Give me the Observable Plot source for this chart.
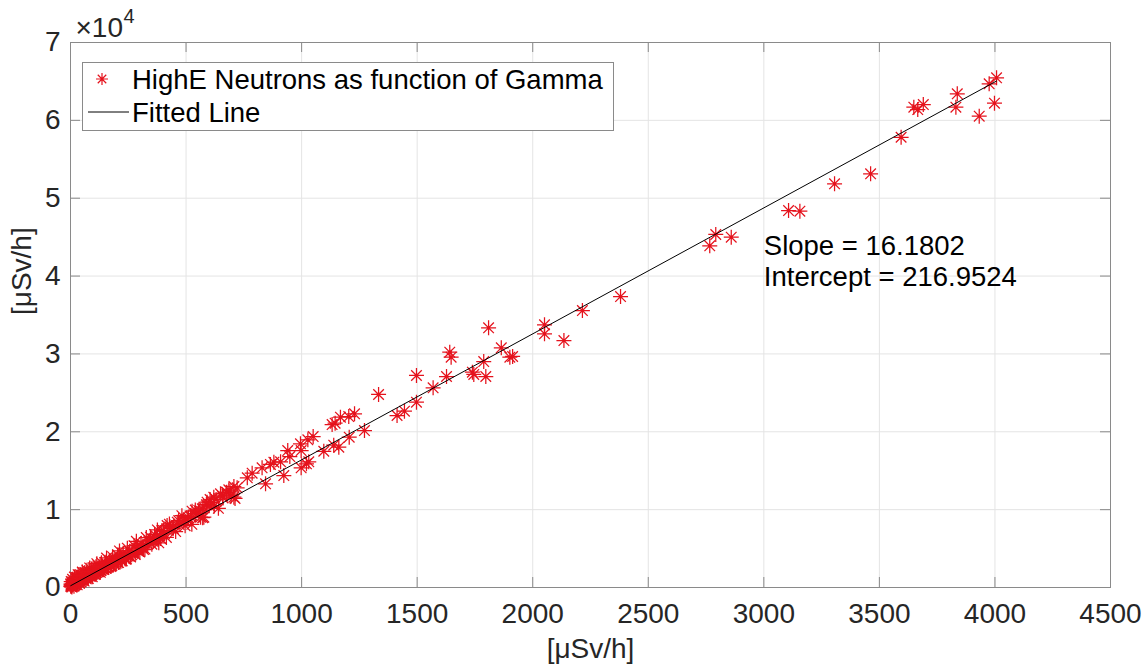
<!DOCTYPE html>
<html>
<head>
<meta charset="utf-8">
<script src="https://cdn.jsdelivr.net/npm/d3@7"></script>
<script src="https://cdn.jsdelivr.net/npm/@observablehq/plot@0.6"></script>
<style>
  html, body { margin: 0; padding: 0; background: #fff; }
  #wrap { position: relative; width: 1144px; height: 671px; font-family: "Liberation Sans", Arial, sans-serif; }
  #legend { position: absolute; left: 82px; top: 62px; width: 530px; height: 67px; border: 1px solid #8a8a8a; background: #fff; }
</style>
</head>
<body>
<div id="wrap"><div id="chart"></div><div id="legend"></div></div>
<script>
// ---- data ----
const gamma = [
  1,2,3,4,5,7,8,10,11,13,14,16,18,19,21,23,24,26,28,30,32,34,36,38,40,43,45,47,50,52,55,57,60,63,66,69,72,75,78,81,85,88,92,96,100,104,108,112,117,121,126,131,136,141,147,153,159,165,172,179,186,193,200,208,216,224,233,242,251,260,270,280,290,300,311,322,334,358,370,385,
  3,6,9,12,15,17,20,22,25,27,29,31,33,35,37,39,42,44,46,48,51,54,56,59,62,65,68,71,74,77,80,83,87,90,94,98,102,106,110,114,119,124,129,134,139,144,150,156,162,168,175,182,189,197,204,212,220,228,237,246,256,265,275,285,295,305,316,328,340,352,364,376,390,402,415,428,440,455,468,482,496,510,525,540,556,572,588,604,622,640,658,676,695,712,
  395,430,445,470,490,505,520,540,555,570,600,610,630,660,675,690,
  361,346,382,407,418,462,526,563,577,577,591,620,649,685,707,707,721,765,786,829,844,865,880,909,923,940,949,995,998,998,1021,1027,1031,1050,1096,1132,1139,1145,1161,1168,1204,1206,1229,1272,1333,1413,1445,1497,1497,1569,1627,1641,1647,1739,1745,1788,1797,1809,1864,1901,1913,2051,2051,2135,2215,2380,
  2766,2792,2859,3107,3156,3306,3462,3594,3649,3666,3690,3831,3837,3932,3975,3998,4007
];
const neutrons = [
  180,420,120,330,260,450,310,520,380,470,610,540,650,580,720,680,800,710,850,790,930,860,1000,920,1050,990,1120,1060,1180,1110,1260,1190,1340,1280,1420,1350,1500,1440,1590,1520,1680,1610,1790,1720,1900,1830,2010,1940,2140,2060,2280,2190,2420,2330,2560,2480,2720,2640,2900,2810,3090,3000,3300,3200,3520,3420,3780,3660,4050,3930,4380,4250,4720,4560,5100,4940,5560,5900,6250,6600,
  770,60,1060,610,160,1340,840,370,1270,750,340,1270,1650,680,1220,550,1650,1130,710,1590,1990,940,1570,820,1920,1520,1120,2220,1710,1160,2060,2510,1480,2070,1390,2550,2070,1680,2650,3060,1990,2670,1950,3190,2720,2300,3240,3790,2640,3390,2700,3960,3530,3100,4170,4700,3630,4410,3650,5050,4660,4200,5370,5930,4790,5650,4880,6420,6020,5560,6810,7400,6280,7320,6430,8140,7640,7180,8590,9220,7940,8970,8110,9950,9510,8970,10630,11290,10480,10170,11760,12250,11760,11440,
  7300,7800,7600,8100,8600,8800,9100,9500,9900,10100,10500,10900,11300,11500,12200,12400,
  6040,6460,5740,6900,7960,8390,9800,9030,10310,9030,10960,11600,12030,12550,12970,11600,12800,14090,14680,15370,13320,15800,16100,16140,14380,17590,16820,18450,17590,15370,15880,18970,16140,19390,17500,20930,18280,21100,18020,21870,21960,19300,22310,20160,24790,22090,22640,27230,23800,25650,27100,30220,29580,27650,27360,29020,27100,33350,30780,29580,29670,33740,32580,31720,35570,37370,
  43880,45340,44990,48420,48330,51850,53130,57830,61690,61390,62030,61690,63410,60530,64690,62200,65460
];
const fitSlope = 16.1802;
const fitIntercept = 216.9524;
const xTicks = [0, 500, 1000, 1500, 2000, 2500, 3000, 3500, 4000, 4500];
const yTicks = [0, 10000, 20000, 30000, 40000, 50000, 60000, 70000];
const xLabel = "[μSv/h]";
const yLabel = "[μSv/h]";
const exponentBase = "×10";
const exponentPower = "4";
const seriesName = "HighE Neutrons as function of Gamma";
const fitName = "Fitted Line";
const annotX = 3000, annotY = 42000;
const annotText = `Slope = ${fitSlope.toFixed(4)}\nIntercept = ${fitIntercept.toFixed(4)}`;

// ---- build ----
const points = gamma.map((g, i) => ({g, n: neutrons[i]}));
const fitLine = d3.extent(gamma).map(g => ({g, n: fitSlope * g + fitIntercept}));

const W = 1144, H = 671, mL = 70, mR = 34, mT = 42, mB = 84;
const innerW = W - mL - mR, innerH = H - mT - mB;
const red = "#e5121c";
const frameColor = "#8a8a8a";
const gridColor = "#e4e4e4";
const tickLen = 10;

// MATLAB-like asterisk (+ combined with x)
const asterisk = {
  draw(ctx, size) {
    const r = Math.sqrt(size / Math.PI);
    const d = r * Math.SQRT1_2;
    ctx.moveTo(-r, 0); ctx.lineTo(r, 0);
    ctx.moveTo(0, -r); ctx.lineTo(0, r);
    ctx.moveTo(-d, -d); ctx.lineTo(d, d);
    ctx.moveTo(-d, d); ctx.lineTo(d, -d);
  }
};

const chart = Plot.plot({
  width: W, height: H,
  marginLeft: mL, marginRight: mR, marginTop: mT, marginBottom: mB,
  style: {fontFamily: "'Liberation Sans', Arial, sans-serif", fontSize: "28px", color: "#262626", background: "#fff", overflow: "visible"},
  x: {domain: [0, 4500], ticks: xTicks, tickFormat: d => String(d), tickSize: 0, tickPadding: 16, label: null},
  y: {domain: [0, 70000], ticks: yTicks, tickFormat: d => String(d / 1e4), tickSize: 0, tickPadding: 10, label: null},
  marks: [
    Plot.ruleX(xTicks, {stroke: gridColor, strokeWidth: 1}),
    Plot.ruleY(yTicks, {stroke: gridColor, strokeWidth: 1}),
    Plot.ruleX(xTicks, {stroke: frameColor, insetTop: innerH - tickLen}),
    Plot.ruleX(xTicks, {stroke: frameColor, insetBottom: innerH - tickLen}),
    Plot.ruleY(yTicks, {stroke: frameColor, insetRight: innerW - tickLen}),
    Plot.ruleY(yTicks, {stroke: frameColor, insetLeft: innerW - tickLen}),
    Plot.frame({stroke: frameColor, strokeWidth: 1}),
    Plot.dot(points, {x: "g", y: "n", symbol: asterisk, r: 7.5, stroke: red, strokeWidth: 1.25, fill: "none"}),
    Plot.line(fitLine, {x: "g", y: "n", stroke: "#000", strokeWidth: 1}),
    Plot.text([{x: annotX, y: annotY, t: annotText}], {x: "x", y: "y", text: "t", textAnchor: "start", lineAnchor: "middle", fontSize: 27.5, lineHeight: 1.15, fill: "#000"}),
    Plot.text([xLabel], {frameAnchor: "bottom", dy: 70, fontSize: 28, fill: "#262626"}),
    Plot.text([yLabel], {frameAnchor: "left", dx: -48, rotate: -90, fontSize: 28, fill: "#262626"}),
    Plot.text([exponentBase], {frameAnchor: "top-left", dx: 5, dy: -6, textAnchor: "start", lineAnchor: "bottom", fontSize: 28, fill: "#262626"}),
    Plot.text([exponentPower], {frameAnchor: "top-left", dx: 53, dy: -20, textAnchor: "start", lineAnchor: "bottom", fontSize: 20, fill: "#262626"})
  ]
});
document.getElementById("chart").appendChild(chart);

// legend box inside the axes (as in the reference)
const lg = d3.select("#legend").append("svg").attr("width", 530).attr("height", 67)
  .style("font-family", "'Liberation Sans', Arial, sans-serif");
const sym = d3.symbol().type(asterisk).size(Math.PI * 36);
lg.append("path").attr("d", sym()).attr("transform", "translate(19,16)")
  .attr("fill", "none").attr("stroke", red).attr("stroke-width", 1.2);
lg.append("line").attr("x1", 5).attr("x2", 46).attr("y1", 49).attr("y2", 49).attr("stroke", "#000").attr("stroke-width", 1);
lg.append("text").attr("x", 49).attr("y", 16).attr("dy", "0.35em").attr("font-size", 27.5).attr("fill", "#000").text(seriesName);
lg.append("text").attr("x", 49).attr("y", 49).attr("dy", "0.35em").attr("font-size", 27.5).attr("fill", "#000").text(fitName);
</script>
</body>
</html>
